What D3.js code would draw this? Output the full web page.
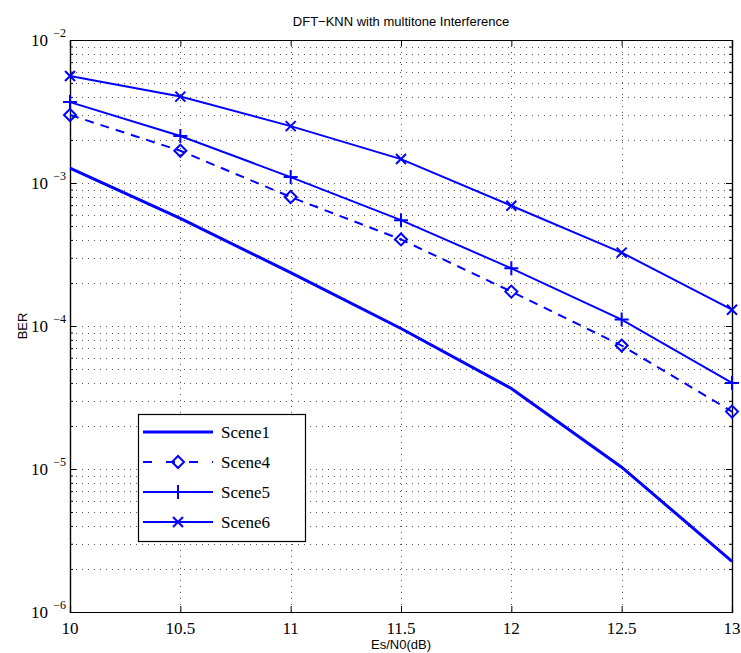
<!DOCTYPE html>
<html>
<head>
<meta charset="utf-8">
<script src="https://cdn.jsdelivr.net/npm/d3@7"></script>
<style>
  body { margin: 0; background: #fff; }
  svg { display: block; }
</style>
</head>
<body>
<div id="wrapper"></div>
<script>
// data
const snr = [10, 10.5, 11, 11.5, 12, 12.5, 13];
const scene1 = [1.27e-3, 5.66e-4, 2.36e-4, 9.6e-5, 3.66e-5, 1.03e-5, 2.26e-6];
const scene4 = [2.99e-3, 1.68e-3, 7.98e-4, 4.03e-4, 1.74e-4, 7.3e-5, 2.52e-5];
const scene5 = [3.68e-3, 2.13e-3, 1.10e-3, 5.5e-4, 2.53e-4, 1.11e-4, 4.0e-5];
const scene6 = [5.6e-3, 4.02e-3, 2.5e-3, 1.47e-3, 6.93e-4, 3.26e-4, 1.3e-4];
const seriesNames = ["Scene1", "Scene4", "Scene5", "Scene6"];
const xTicks = [10, 10.5, 11, 11.5, 12, 12.5, 13];
const yDecades = [-6, -5, -4, -3, -2];

function buildPlot() {
    const dimension = {
        width: 741,
        height: 653,
        margin: { top: 40, left: 70, bottom: 41, right: 9 }
    };
    dimension.boundedWidth = dimension.width - dimension.margin.left - dimension.margin.right;
    dimension.boundedHeight = dimension.height - dimension.margin.top - dimension.margin.bottom;

    const svg = d3.select("#wrapper").append("svg")
        .attr("width", dimension.width)
        .attr("height", dimension.height);

    const bounded = svg.append("g")
        .attr("transform", `translate(${dimension.margin.left},${dimension.margin.top})`);

    const xScaler = d3.scaleLinear()
        .domain([10, 13])
        .range([0, dimension.boundedWidth]);
    const yScaler = d3.scaleLog()
        .domain([1e-6, 1e-2])
        .range([dimension.boundedHeight, 0]);

    // minor + major log positions
    const yMinor = [];
    for (let e = -6; e < -2; e++) {
        for (let m = 2; m <= 9; m++) yMinor.push(m * Math.pow(10, e));
    }
    const yMajor = yDecades.map(e => Math.pow(10, e));

    // dotted grid
    const grid = bounded.append("g")
        .attr("stroke", "#555")
        .attr("stroke-width", 1)
        .attr("stroke-dasharray", "1,5");
    grid.selectAll(".gy").data(yMajor.concat(yMinor)).join("line")
        .attr("x1", 0).attr("x2", dimension.boundedWidth)
        .attr("y1", d => Math.round(yScaler(d)) + 0.5)
        .attr("y2", d => Math.round(yScaler(d)) + 0.5);
    grid.selectAll(".gx").data(xTicks).join("line")
        .attr("x1", d => Math.round(xScaler(d)) + 0.5)
        .attr("x2", d => Math.round(xScaler(d)) + 0.5)
        .attr("y1", 0).attr("y2", dimension.boundedHeight);

    // axes with inward ticks
    const xAxisBottom = d3.axisBottom(xScaler).tickValues(xTicks).tickSize(-6).tickFormat("");
    const xAxisTop = d3.axisTop(xScaler).tickValues(xTicks).tickSize(-6).tickFormat("");
    bounded.append("g").attr("transform", `translate(0,${dimension.boundedHeight})`).call(xAxisBottom);
    bounded.append("g").call(xAxisTop);

    const yAxisLeft = d3.axisLeft(yScaler).tickValues(yMajor).tickSize(-6).tickFormat("");
    const yAxisRight = d3.axisRight(yScaler).tickValues(yMajor).tickSize(-6).tickFormat("");
    const yMinorLeft = d3.axisLeft(yScaler).tickValues(yMinor).tickSize(-3).tickFormat("");
    const yMinorRight = d3.axisRight(yScaler).tickValues(yMinor).tickSize(-3).tickFormat("");
    bounded.append("g").call(yAxisLeft);
    bounded.append("g").call(yMinorLeft);
    bounded.append("g").attr("transform", `translate(${dimension.boundedWidth},0)`).call(yAxisRight);
    bounded.append("g").attr("transform", `translate(${dimension.boundedWidth},0)`).call(yMinorRight);
    bounded.selectAll(".domain").attr("stroke", "#000").attr("stroke-width", 1.2);
    bounded.selectAll(".tick line").attr("stroke", "#000");

    // tick labels
    bounded.append("g").selectAll("text").data(xTicks).join("text")
        .attr("x", d => xScaler(d))
        .attr("y", dimension.boundedHeight + 22)
        .attr("text-anchor", "middle")
        .attr("font-family", "Liberation Serif, Times New Roman, serif")
        .attr("font-size", 17)
        .text(d => d);

    const yLab = bounded.append("g").selectAll("text").data(yDecades).join("text")
        .attr("x", -22)
        .attr("y", d => yScaler(Math.pow(10, d)) + 6)
        .attr("text-anchor", "end")
        .attr("font-family", "Liberation Serif, Times New Roman, serif")
        .attr("font-size", 17);
    yLab.append("tspan").text("10");
    yLab.append("tspan")
        .attr("x", -4)
        .attr("dy", -9)
        .attr("font-size", 12)
        .attr("text-anchor", "end")
        .text(d => "\u2212" + (-d));

    // series
    const series = [
        { name: seriesNames[0], values: scene1, width: 3, dash: null, marker: null },
        { name: seriesNames[1], values: scene4, width: 2, dash: "9,7", marker: "diamond" },
        { name: seriesNames[2], values: scene5, width: 2, dash: null, marker: "plus" },
        { name: seriesNames[3], values: scene6, width: 2, dash: null, marker: "cross" }
    ];

    const lineGenerator = d3.line()
        .x((d, i) => xScaler(snr[i]))
        .y(d => yScaler(d));

    function drawMarker(g, type, x, y) {
        const s = 6;
        if (type === "diamond") {
            g.append("path")
                .attr("d", `M${x},${y - s}L${x + s},${y}L${x},${y + s}L${x - s},${y}Z`)
                .attr("fill", "none").attr("stroke", "#0000ff").attr("stroke-width", 2);
        } else if (type === "plus") {
            g.append("path")
                .attr("d", `M${x - s - 1},${y}H${x + s + 1}M${x},${y - s - 1}V${y + s + 1}`)
                .attr("stroke", "#0000ff").attr("stroke-width", 2);
        } else if (type === "cross") {
            const c = 5;
            g.append("path")
                .attr("d", `M${x - c},${y - c}L${x + c},${y + c}M${x - c},${y + c}L${x + c},${y - c}`)
                .attr("stroke", "#0000ff").attr("stroke-width", 2);
        }
    }

    const plotArea = bounded.append("g");
    series.forEach(s => {
        plotArea.append("path")
            .attr("d", lineGenerator(s.values))
            .attr("fill", "none")
            .attr("stroke", "#0000ff")
            .attr("stroke-width", s.width)
            .attr("stroke-dasharray", s.dash);
        if (s.marker) {
            s.values.forEach((v, i) => drawMarker(plotArea, s.marker, xScaler(snr[i]), yScaler(v)));
        }
    });

    // legend
    const legend = svg.append("g").attr("transform", "translate(138,414)");
    legend.append("rect")
        .attr("x", 0.5).attr("y", 0.5)
        .attr("width", 167).attr("height", 127)
        .attr("fill", "#fff").attr("stroke", "#000").attr("stroke-width", 1.2);
    series.forEach((s, i) => {
        const yy = 18 + i * 30;
        legend.append("line")
            .attr("x1", 5).attr("x2", 75)
            .attr("y1", yy).attr("y2", yy)
            .attr("stroke", "#0000ff")
            .attr("stroke-width", s.width)
            .attr("stroke-dasharray", s.dash ? "9,14" : null)
            .attr("stroke-dashoffset", s.dash ? 0 : null);
        if (s.marker) drawMarker(legend, s.marker, 40, yy);
        legend.append("text")
            .attr("x", 83).attr("y", yy + 6)
            .attr("font-family", "Liberation Serif, Times New Roman, serif")
            .attr("font-size", 17)
            .text(s.name);
    });

    // title and axis labels
    svg.append("text")
        .attr("x", dimension.margin.left + dimension.boundedWidth / 2)
        .attr("y", 26)
        .attr("text-anchor", "middle")
        .attr("font-family", "Liberation Sans, Arial, sans-serif")
        .attr("font-size", 13)
        .text("DFT\u2212KNN with multitone Interference");
    svg.append("text")
        .attr("x", dimension.margin.left + dimension.boundedWidth / 2)
        .attr("y", 649)
        .attr("text-anchor", "middle")
        .attr("font-family", "Liberation Sans, Arial, sans-serif")
        .attr("font-size", 13)
        .text("Es/N0(dB)");
    svg.append("text")
        .attr("transform", "translate(27,326) rotate(-90)")
        .attr("text-anchor", "middle")
        .attr("font-family", "Liberation Sans, Arial, sans-serif")
        .attr("font-size", 13)
        .text("BER");
}

buildPlot();
</script>
</body>
</html>
